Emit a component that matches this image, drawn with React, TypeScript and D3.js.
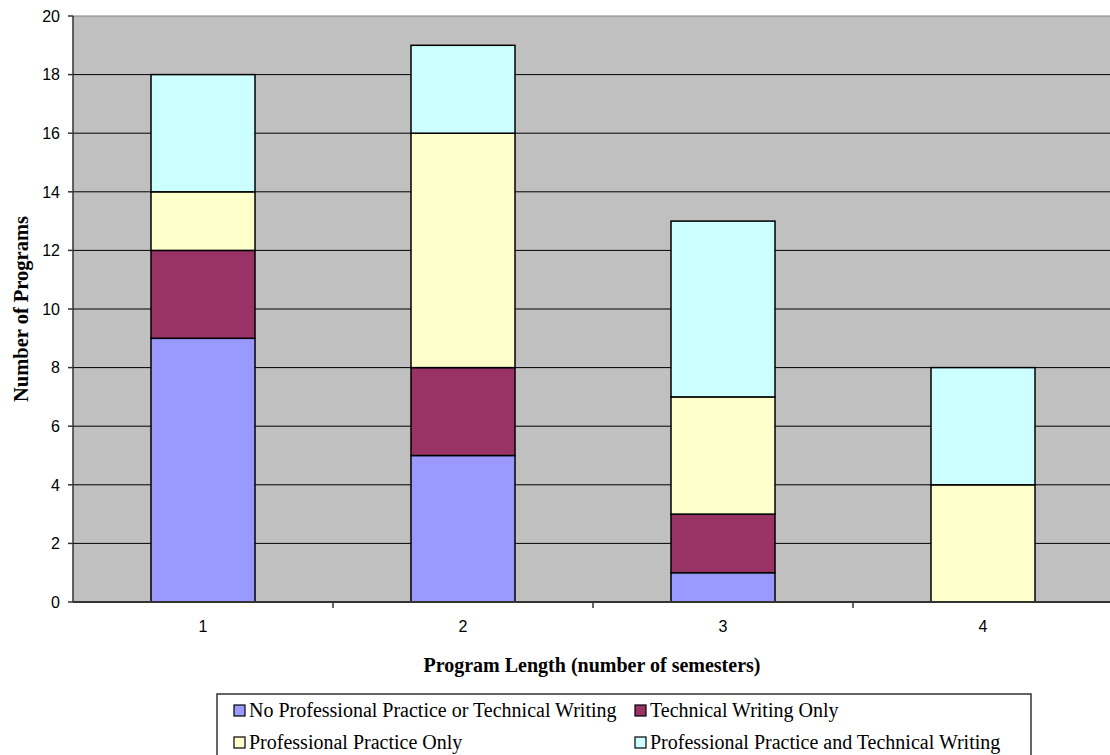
import React from "react";
import * as d3 from "d3";

const categories = ["1", "2", "3", "4"];
const seriesNames = [
  "No Professional Practice or Technical Writing",
  "Technical Writing Only",
  "Professional Practice Only",
  "Professional Practice and Technical Writing",
];
const noPPorTW = [9, 5, 1, 0];
const twOnly = [3, 3, 2, 0];
const ppOnly = [2, 8, 4, 4];
const ppAndTw = [4, 3, 6, 4];
const seriesColors = ["#9999FF", "#993366", "#FFFFCC", "#CCFFFF"];
const yTicks = [0, 2, 4, 6, 8, 10, 12, 14, 16, 18, 20];

export default function App() {
  const W = 1110, H = 755;
  const left = 73, right = 1113, top = 16, bottom = 602;
  const x = d3.scaleBand().domain(categories).range([left, right]).paddingInner(0).paddingOuter(0);
  const y = d3.scaleLinear().domain([0, 20]).range([bottom, top]);
  const barW = x.bandwidth() * 0.4;

  const rows = categories.map((c, i) => ({
    cat: c,
    s0: noPPorTW[i], s1: twOnly[i], s2: ppOnly[i], s3: ppAndTw[i],
  }));
  const stack = d3.stack<any>().keys(["s0", "s1", "s2", "s3"])(rows);

  const serif = "'Liberation Serif', 'Times New Roman', serif";
  const sans = "'Liberation Sans', Arial, sans-serif";

  const legendItems = [
    { i: 0, x: 234, y: 705 },
    { i: 1, x: 635, y: 705 },
    { i: 2, x: 234, y: 737 },
    { i: 3, x: 635, y: 737 },
  ];

  return (
    <svg width={W} height={H} style={{ position: "absolute", left: 0, top: 0, background: "#fff" }}>
      <rect x={left} y={top} width={right - left} height={bottom - top} fill="#C0C0C0" />
      {yTicks.filter(t => t > 0).map(t => (
        <line key={"g" + t} x1={left} x2={right} y1={y(t)} y2={y(t)}
          stroke={t === 20 ? "#808080" : "#000"} strokeWidth={1} />
      ))}
      {stack.map((layer, si) =>
        layer.map((d, ci) => {
          const h = y(d[0]) - y(d[1]);
          if (h <= 0) return null;
          const cx = (x(categories[ci]) as number) + x.bandwidth() / 2;
          return (
            <rect key={si + "-" + ci} x={cx - barW / 2} y={y(d[1])} width={barW} height={h}
              fill={seriesColors[si]} stroke="#000" strokeWidth={1.5} />
          );
        })
      )}
      <line x1={left} x2={left} y1={top} y2={bottom} stroke="#333" strokeWidth={1.5} />
      <line x1={left} x2={right} y1={bottom} y2={bottom} stroke="#333" strokeWidth={2} />
      {yTicks.map(t => (
        <g key={"yt" + t}>
          <line x1={left - 5} x2={left} y1={y(t)} y2={y(t)} stroke="#333" strokeWidth={1.5} />
          <text x={60} y={y(t)} dy="0.36em" textAnchor="end" fontFamily={sans} fontSize={16} fill="#000">{t}</text>
        </g>
      ))}
      {categories.map((c, i) => (
        <g key={"xt" + c}>
          {i > 0 && <line x1={x(c) as number} x2={x(c) as number} y1={bottom} y2={bottom + 6} stroke="#333" strokeWidth={1.5} />}
          <text x={(x(c) as number) + x.bandwidth() / 2} y={632} textAnchor="middle" fontFamily={sans} fontSize={16} fill="#000">{c}</text>
        </g>
      ))}
      <text transform={`translate(28,309) rotate(-90)`} textAnchor="middle" fontFamily={serif} fontWeight="bold" fontSize={20.5} fill="#000">Number of Programs</text>
      <text x={592} y={672} textAnchor="middle" fontFamily={serif} fontWeight="bold" fontSize={20} fill="#000">Program Length (number of semesters)</text>
      <rect x={217} y={694} width={1031 - 217} height={80} fill="#fff" stroke="#333" strokeWidth={1.5} />
      {legendItems.map(it => (
        <g key={"lg" + it.i}>
          <rect x={it.x} y={it.y} width={11} height={11} fill={seriesColors[it.i]} stroke="#000" strokeWidth={1.2} />
          <text x={it.x + 15} y={it.y + 11.5} fontFamily={serif} fontSize={20} fill="#000">{seriesNames[it.i]}</text>
        </g>
      ))}
    </svg>
  );
}
